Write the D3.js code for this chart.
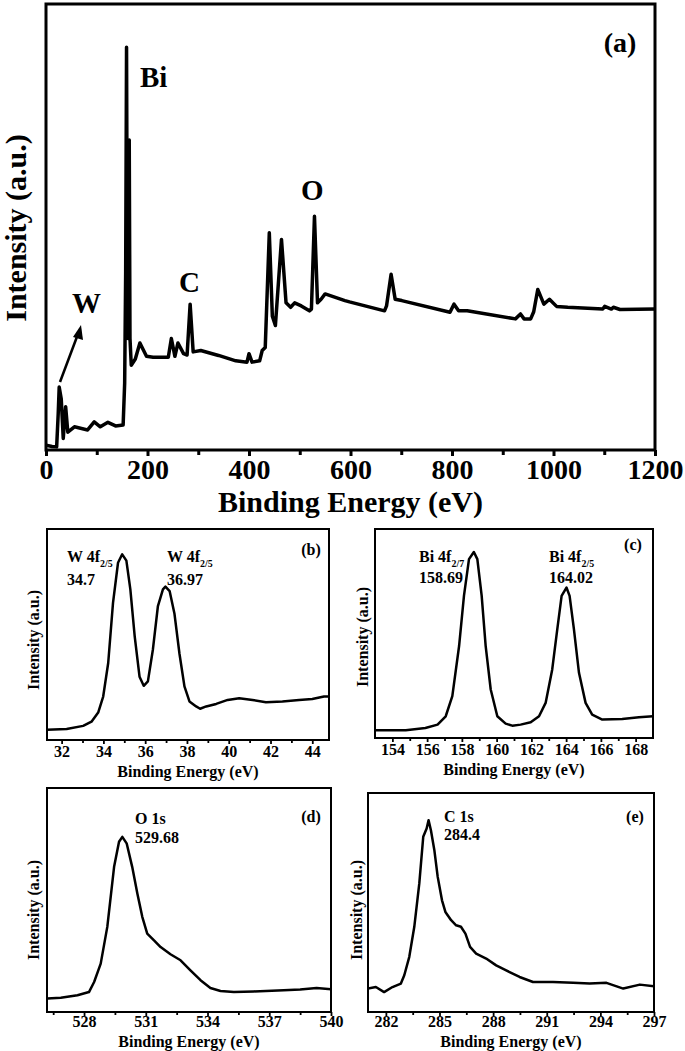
<!DOCTYPE html>
<html><head><meta charset="utf-8">
<script src="https://cdn.jsdelivr.net/npm/d3@7"></script>
<style>
body{margin:0;background:#fff}
text{font-family:"Liberation Serif","Times New Roman",serif;font-weight:bold;fill:#000}
</style>
</head><body>
<svg id="c" width="685" height="1051"></svg>
<script>
// ---------- DATA ----------
// (a) survey
const surveyEnergy = [0,12,21,24,26,30,34,38.7,43,56,82,95,107,122,137,152,155,157,158.7,160,161.5,163,164,165.5,168,176,185,198,211,241,247,254,260,271,278,284,290,305,340,374,396,400,406,421,426,432,440,446,452,464,473,482,490,503,519,523,529,535,542,550,589,598,667,671,680,688,701,796,804,813,830,925,935,942,955,961,969,981,992,1006,1028,1097,1101,1114,1118,1131,1200];
const surveyIntensity = [1.1,0.8,0.7,8,14.1,11.5,2.6,9.7,4,5.2,4.5,6.3,5.2,6.2,5.4,5.6,15,40,90.3,45,25,40,69.5,25,19,20.4,24,21,20.8,20.8,25,21,24,21.6,21.3,32.7,22,22.3,21.2,20,19.7,21.6,19.7,20,22.3,23,48.7,30,27.9,47.2,33,32,33,32.3,31.2,31.6,52.4,33,33.8,35,33.5,33.2,31.2,32.3,39.4,33.8,33.5,30.9,32.7,31.2,31.2,29.4,30.5,29.4,29.4,31,36,32.7,33.8,32.2,32,31.6,32.2,31.6,32,31.5,31.6];
const surveyTicks = [0,200,400,600,800,1000,1200];
const surveyMinor = [100,300,500,700,900,1100];

// (b) W 4f
const w4fEnergy = [31.28,32.24,33.03,33.43,33.75,33.99,34.23,34.46,34.7,34.9,35.1,35.29,35.5,35.73,35.93,36.13,36.37,36.61,36.85,36.97,37.17,37.4,37.64,37.88,38.12,38.44,38.63,38.92,39.4,39.95,40.5,41.14,41.78,42.57,43.37,44,44.56,44.8];
const w4fIntensity = [4.8,5.2,6.7,8.7,13,20.6,36.5,65,84,88,85,71.4,49,30,25.7,27.8,42.9,63.5,71.4,72.7,70.6,60,41,25.4,18.3,15.9,14.8,15.9,17.1,19,19.8,19,17.9,18.3,19,19.4,20.6,20.6];
const w4fTicks = [32,34,36,38,40,42,44];
const w4fMinor = [33,35,37,39,41,43];

// (c) Bi 4f
const bi4fEnergy = [153,154.77,155.9,156.6,157.07,157.45,157.84,158.12,158.41,158.69,158.89,159.14,159.37,159.66,160.04,160.52,160.9,161.38,161.96,162.44,162.82,163.2,163.49,163.74,164.02,164.2,164.45,164.74,165.12,165.5,166.08,167.23,168.19,169];
const bi4fIntensity = [3.7,3.7,4.8,6.4,10.4,20,44,68,85.6,89,85.6,68,44,23.2,10.4,6.9,5.9,6.4,7.5,10.4,16.8,32.8,52,68,72,68,52,31.2,16.8,11.2,8.8,9.1,9.9,10.4];
const bi4fTicks = [154,156,158,160,162,164,166,168];
const bi4fMinor = [155,157,159,161,163,165,167];

// (d) O 1s
const o1sEnergy = [526.22,526.87,527.68,528.24,528.49,528.81,529.13,529.46,529.7,529.86,530.07,530.34,530.59,530.83,531.07,531.4,531.72,532.2,532.69,533.17,533.66,534.14,534.63,535.28,536.25,537.7,538.5,539.3,540];
const o1sIntensity = [6,6.4,7.5,8.9,13.4,21.6,38,64.8,76,78.2,75.3,64.8,52.9,42.5,35,32,29,25.8,23.1,18.6,14.2,10.7,9.4,8.9,9.2,9.7,10,10.7,10.1];
const o1sTicks = [528,531,534,537,540];
const o1sMinor = [526.5,529.5,532.5,535.5,538.5];

// (e) C 1s
const c1sEnergy = [281,281.44,281.9,282.37,282.84,283.03,283.31,283.59,283.87,284.09,284.28,284.39,284.52,284.71,284.9,285.14,285.33,285.65,285.93,286.2,286.45,286.71,287.05,287.61,288.17,288.73,289.48,290.23,291.35,292.47,293.4,294.34,295.28,296.21,297];
const c1sIntensity = [10.7,11.4,9.1,11.4,13,16.8,25.2,38.9,58.7,80,83.8,87.6,83,74,61.7,51,45.7,41.9,39.6,38.9,35.8,29.7,26.7,24.4,21.3,19,16,13.7,13.7,13.3,13,13.3,10.7,12.5,11.7];
const c1sTicks = [282,285,288,291,294,297];
const c1sMinor = [283.5,286.5,289.5,292.5,295.5];

// ---------- DRAWING ----------
const svg = d3.select('#c');
let clipId = 0;

function panel(p) {
  const g = svg.append('g');
  const x = d3.scaleLinear().domain(p.xDomain).range([p.left, p.right]);
  const y = d3.scaleLinear().domain([0, 100]).range([p.bottom, p.top]);
  const id = 'clip' + (clipId++);
  svg.append('clipPath').attr('id', id).append('rect')
    .attr('x', p.left).attr('y', p.top).attr('width', p.right - p.left).attr('height', p.bottom - p.top);

  g.append('path')
    .datum(d3.zip(p.xs, p.ys))
    .attr('clip-path', `url(#${id})`)
    .attr('d', d3.line().x(d => x(d[0])).y(d => y(d[1])))
    .attr('fill', 'none').attr('stroke', '#000')
    .attr('stroke-width', p.lw).attr('stroke-linejoin', 'round');

  const ax = g.append('g').attr('transform', `translate(0,${p.bottom})`)
    .call(d3.axisBottom(x).tickValues(p.ticks).tickSize(p.tickLen).tickFormat(d3.format('d')));
  ax.select('.domain').remove();
  ax.attr('font-family', null).attr('font-size', null);
  ax.selectAll('line').attr('stroke-width', p.tickW);
  ax.selectAll('text').style('font-size', p.tickFont + 'px')
    .attr('y', p.tickY - p.bottom).attr('dy', 0);

  const mx = g.append('g').attr('transform', `translate(0,${p.bottom})`)
    .call(d3.axisBottom(x).tickValues(p.minor).tickSize(p.minorLen).tickFormat(''));
  mx.select('.domain').remove();
  mx.selectAll('line').attr('stroke-width', p.tickW);

  g.append('rect').attr('x', p.left).attr('y', p.top)
    .attr('width', p.right - p.left).attr('height', p.bottom - p.top)
    .attr('fill', 'none').attr('stroke', '#000').attr('stroke-width', p.frameW);

  g.append('text').attr('x', (p.left + p.right) / 2).attr('y', p.titleY)
    .attr('text-anchor', 'middle').style('font-size', p.titleFont + 'px')
    .text('Binding Energy (eV)');

  g.append('text').attr('transform', `translate(${p.ylabX},${p.ylabY}) rotate(-90)`)
    .attr('text-anchor', 'middle').attr('dominant-baseline', 'central')
    .style('font-size', p.titleFont + 'px')
    .text('Intensity (a.u.)');

  g.append('text').attr('x', p.tagX).attr('y', p.tagY).attr('text-anchor', 'middle')
    .style('font-size', p.tagFont + 'px').text(p.tag);
  return {g, x, y};
}

function label(g, xPos, yPos, size, main, sub) {
  const t = g.append('text').attr('x', xPos).attr('y', yPos).style('font-size', size + 'px');
  t.append('tspan').text(main);
  if (sub) t.append('tspan').attr('dy', size * 0.3).style('font-size', (size * 0.62) + 'px').text(sub);
  return t;
}

// (a)
const A = panel({xs: surveyEnergy, ys: surveyIntensity, xDomain: [0, 1200], ticks: surveyTicks, minor: surveyMinor,
  left: 46, right: 655, top: 4, bottom: 450, lw: 3.5, frameW: 3, tickW: 3, tickLen: 6, minorLen: 5, tickY: 479, tickFont: 28,
  titleY: 512, titleFont: 30, ylabX: 15, ylabY: 228, tag: '(a)', tagX: 620, tagY: 52, tagFont: 28});
label(A.g, 140, 87, 29, 'Bi');
label(A.g, 301, 200, 29, 'O');
label(A.g, 179, 292, 29, 'C');
label(A.g, 72, 313, 29, 'W');
A.g.append('line').attr('x1', 60).attr('y1', 382).attr('x2', 78).attr('y2', 334)
  .attr('stroke', '#000').attr('stroke-width', 2.5);
A.g.append('path').attr('d', 'M81,325 L73,337 L83,340 Z').attr('fill', '#000');

// (b)
const B = panel({xs: w4fEnergy, ys: w4fIntensity, xDomain: [31.3, 44.8], ticks: w4fTicks, minor: w4fMinor,
  left: 47, right: 329, top: 529, bottom: 740, lw: 2.5, frameW: 2, tickW: 1.8, tickLen: 4, minorLen: 3, tickY: 757, tickFont: 16,
  titleY: 777, titleFont: 16, ylabX: 33, ylabY: 640, tag: '(b)', tagX: 311, tagY: 555, tagFont: 16});
label(B.g, 67, 562, 16, 'W 4f', '2/5');
label(B.g, 67, 585, 16, '34.7');
label(B.g, 167, 562, 16, 'W 4f', '2/5');
label(B.g, 167, 585, 16, '36.97');

// (c)
const C = panel({xs: bi4fEnergy, ys: bi4fIntensity, xDomain: [153, 169], ticks: bi4fTicks, minor: bi4fMinor,
  left: 375, right: 653, top: 529, bottom: 738, lw: 2.5, frameW: 2, tickW: 1.8, tickLen: 4, minorLen: 3, tickY: 755, tickFont: 16,
  titleY: 775, titleFont: 16, ylabX: 362, ylabY: 637, tag: '(c)', tagX: 633, tagY: 550, tagFont: 16});
label(C.g, 419, 562, 16, 'Bi 4f', '2/7');
label(C.g, 419, 583, 16, '158.69');
label(C.g, 549, 562, 16, 'Bi 4f', '2/5');
label(C.g, 549, 583, 16, '164.02');

// (d)
const D = panel({xs: o1sEnergy, ys: o1sIntensity, xDomain: [526.2, 540], ticks: o1sTicks, minor: o1sMinor,
  left: 47, right: 331, top: 788, bottom: 1012, lw: 2.5, frameW: 2, tickW: 1.8, tickLen: 4, minorLen: 3, tickY: 1027, tickFont: 16,
  titleY: 1047, titleFont: 16, ylabX: 33, ylabY: 910, tag: '(d)', tagX: 311, tagY: 822, tagFont: 16});
label(D.g, 135, 824, 16, 'O 1s');
label(D.g, 135, 843, 16, '529.68');

// (e)
const E = panel({xs: c1sEnergy, ys: c1sIntensity, xDomain: [281, 297], ticks: c1sTicks, minor: c1sMinor,
  left: 368, right: 654, top: 793, bottom: 1012, lw: 2.5, frameW: 2, tickW: 1.8, tickLen: 4, minorLen: 3, tickY: 1027, tickFont: 16,
  titleY: 1047, titleFont: 16, ylabX: 356, ylabY: 910, tag: '(e)', tagX: 635, tagY: 822, tagFont: 16});
label(E.g, 444, 822, 16, 'C 1s');
label(E.g, 444, 840, 16, '284.4');
</script>
</body></html>
